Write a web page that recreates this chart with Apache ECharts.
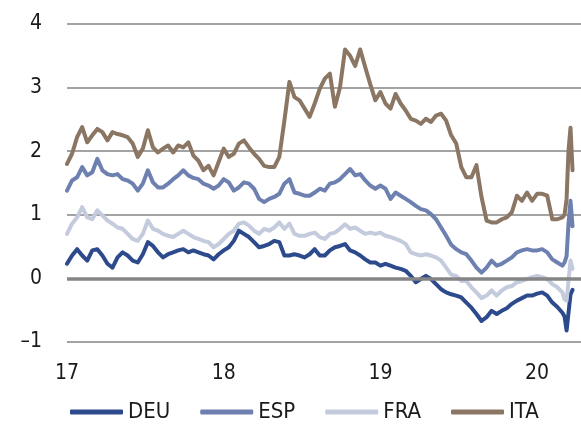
<!DOCTYPE html>
<html>
<head>
<meta charset="utf-8">
<script src="https://cdn.jsdelivr.net/npm/echarts@6/dist/echarts.min.js"></script>
<style>
html,body{margin:0;padding:0;background:#fff;}
#chart{width:581px;height:425px;}
</style>
</head>
<body>
<div id="chart"></div>
<script>
// x positions in decimal years (sampled every 1/31 year, finer at the end)
const dates = [];
for (let i = 0; i <= 98; i++) dates.push(2017 + i / 31);
const endDates = [2020.175, 2020.188, 2020.200, 2020.213, 2020.226];
endDates.forEach(d => dates.push(d));

const seriesNames = ['DEU', 'ESP', 'FRA', 'ITA'];

const DEU = [0.23,0.36,0.46,0.36,0.28,0.44,0.46,0.36,0.23,0.17,0.33,0.41,0.36,0.28,0.25,0.38,0.57,0.51,0.41,0.33,0.38,0.41,0.44,0.46,0.41,0.44,
  0.41,0.38,0.36,0.30,0.38,0.44,0.49,0.59,0.75,0.70,0.65,0.57,0.49,0.51,0.54,0.59,0.57,0.36,0.36,0.38,0.36,0.33,0.38,0.46,0.36,0.36,
  0.44,0.49,0.51,0.54,0.44,0.41,0.36,0.30,0.25,0.25,0.20,0.23,0.20,0.17,0.15,0.12,0.04,-0.06,-0.01,0.04,-0.01,-0.09,-0.17,-0.22,-0.25,
  -0.27,-0.30,-0.38,-0.46,-0.56,-0.67,-0.61,-0.51,-0.56,-0.51,-0.47,-0.40,-0.35,-0.31,-0.27,-0.27,-0.24,-0.22,-0.27,-0.38,-0.45,-0.54,
  -0.60,-0.82,-0.55,-0.25,-0.18];

const ESP = [1.38,1.54,1.59,1.75,1.62,1.67,1.88,1.70,1.64,1.62,1.64,1.56,1.54,1.49,1.38,1.49,1.70,1.51,1.43,1.43,1.49,1.56,1.62,1.70,1.62,1.58,
  1.56,1.49,1.46,1.41,1.46,1.56,1.51,1.38,1.43,1.51,1.49,1.41,1.25,1.20,1.25,1.28,1.33,1.49,1.56,1.35,1.33,1.30,1.30,1.35,1.41,1.38,
  1.49,1.51,1.56,1.64,1.72,1.62,1.64,1.54,1.46,1.41,1.46,1.41,1.25,1.35,1.30,1.25,1.20,1.14,1.09,1.07,1.01,0.93,0.80,0.67,0.53,
  0.46,0.41,0.38,0.28,0.17,0.09,0.17,0.28,0.20,0.23,0.28,0.33,0.41,0.44,0.46,0.44,0.44,0.46,0.41,0.30,0.25,0.20,
  0.25,0.35,0.85,1.22,0.82];

const FRA = [0.70,0.86,0.96,1.12,0.96,0.93,1.07,0.99,0.91,0.86,0.80,0.78,0.70,0.62,0.59,0.70,0.91,0.78,0.75,0.70,0.67,0.65,0.70,0.75,0.70,0.65,
  0.62,0.59,0.57,0.49,0.54,0.62,0.70,0.75,0.86,0.88,0.83,0.75,0.70,0.78,0.75,0.80,0.88,0.78,0.86,0.70,0.67,0.67,0.70,0.72,0.65,0.62,
  0.70,0.72,0.78,0.85,0.78,0.80,0.75,0.70,0.72,0.70,0.72,0.67,0.65,0.62,0.59,0.54,0.41,0.38,0.36,0.38,0.36,0.33,0.28,0.17,0.06,
  0.04,-0.04,-0.04,-0.14,-0.22,-0.31,-0.27,-0.19,-0.27,-0.19,-0.14,-0.12,-0.06,-0.04,-0.01,0.02,0.04,0.02,-0.01,-0.09,-0.14,-0.22,
  -0.33,-0.35,-0.05,0.28,0.15];

const ITA = [1.80,1.96,2.22,2.38,2.14,2.25,2.35,2.30,2.17,2.30,2.27,2.25,2.22,2.12,1.91,2.04,2.33,2.06,1.98,2.04,2.09,1.98,2.09,2.06,2.14,1.93,
  1.85,1.70,1.77,1.62,1.83,2.04,1.91,1.96,2.12,2.17,2.06,1.96,1.88,1.77,1.75,1.75,1.91,2.48,3.09,2.85,2.80,2.67,2.54,2.75,2.98,3.14,
  3.22,2.70,3.00,3.60,3.50,3.34,3.60,3.32,3.05,2.80,2.93,2.75,2.67,2.90,2.75,2.64,2.51,2.48,2.43,2.51,2.46,2.56,2.59,2.48,2.25,
  2.12,1.75,1.59,1.59,1.78,1.28,0.91,0.88,0.88,0.93,0.96,1.04,1.30,1.22,1.35,1.22,1.33,1.33,1.30,0.93,0.93,0.96,
  1.00,1.25,2.00,2.37,1.70];

const yTicks = [-1, 0, 1, 2, 3, 4];
const xTickYears = [2017, 2018, 2019, 2020];

const colors = ['#2c4a8c', '#6e80b0', '#c4cbdd', '#8a7663'];
const values = [DEU, ESP, FRA, ITA];
const FONT = "'Liberation Sans Narrow', 'DejaVu Sans Condensed', 'Liberation Sans', sans-serif";

const chart = echarts.init(document.getElementById('chart'), null, {renderer: 'canvas'});

const series = seriesNames.map((name, k) => ({
  name: name,
  type: 'line',
  data: dates.map((d, i) => [d, values[k][i]]),
  showSymbol: false,
  symbol: 'none',
  smooth: false,
  z: 3,
  lineStyle: {color: colors[k], width: 4, join: 'round', cap: 'round'},
  itemStyle: {color: colors[k]},
  emphasis: {disabled: true}
}));

series.unshift({
  name: 'zero',
  type: 'line',
  data: [],
  z: 1,
  silent: true,
  markLine: {
    silent: true,
    symbol: 'none',
    label: {show: false},
    lineStyle: {color: '#858585', width: 3.5, type: 'solid'},
    data: [{yAxis: 0}],
    animation: false
  }
});

chart.setOption({
  animation: false,
  backgroundColor: '#ffffff',
  textStyle: {fontFamily: FONT},
  grid: {left: 67, right: 0, top: 24, bottom: 83, containLabel: false},
  legend: {
    data: seriesNames,
    left: 70,
    top: 401,
    padding: 0,
    itemWidth: 53,
    itemHeight: 5,
    itemGap: 30,
    icon: 'roundRect',
    selectedMode: false,
    textStyle: {fontFamily: FONT, fontSize: 22, color: '#1a1a1a'}
  },
  xAxis: {
    type: 'value',
    min: xTickYears[0],
    max: 2020.28,
    interval: 1,
    axisLine: {show: false},
    axisTick: {show: false},
    splitLine: {show: false},
    axisLabel: {
      fontFamily: FONT,
      fontSize: 21,
      color: '#1a1a1a',
      margin: 21,
      showMaxLabel: false,
      formatter: v => xTickYears.includes(v) ? String(v).slice(2) : ''
    }
  },
  yAxis: {
    type: 'value',
    min: yTicks[0],
    max: yTicks[yTicks.length - 1],
    interval: 1,
    axisLine: {show: false},
    axisTick: {show: false},
    splitLine: {show: true, lineStyle: {color: '#a3a3a3', width: 2}},
    axisLabel: {
      fontFamily: FONT,
      fontSize: 21,
      color: '#1a1a1a',
      margin: 25,
      formatter: v => v < 0 ? '\u2013' + Math.abs(v) : String(v)
    }
  },
  series: series
});
</script>
</body>
</html>
